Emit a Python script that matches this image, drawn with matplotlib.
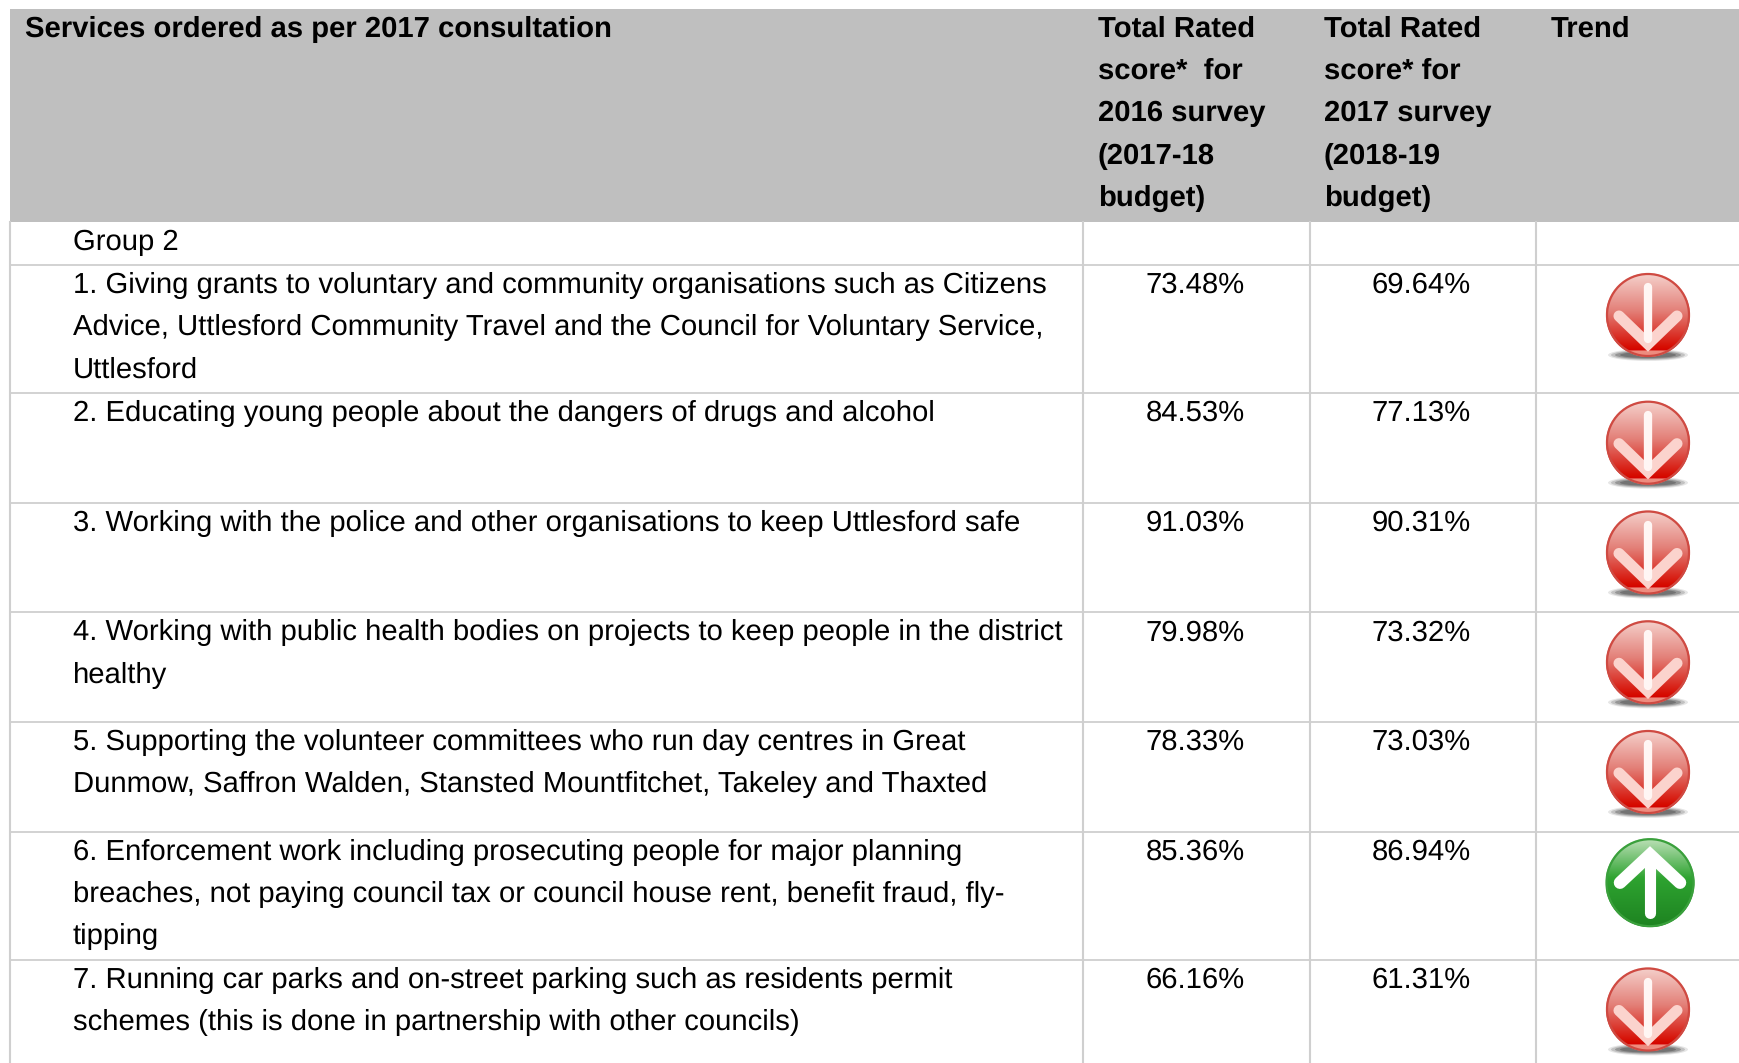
import numpy as np
import matplotlib
matplotlib.use('Agg')
import matplotlib.pyplot as plt
from matplotlib.patches import Circle, Ellipse, Rectangle

plt.rcParams['font.family'] = ['Liberation Sans', 'DejaVu Sans']
plt.rcParams['text.hinting'] = 'no_hinting'

header_main = ["Services ordered as per 2017 consultation"]
header_2016 = ["Total Rated", "score*  for", "2016 survey", "(2017-18", "budget)"]
header_2017 = ["Total Rated", "score* for", "2017 survey", "(2018-19", "budget)"]
header_trend = ["Trend"]
group_label = "Group 2"

services = [
    ["1. Giving grants to voluntary and community organisations such as Citizens",
     "Advice, Uttlesford Community Travel and the Council for Voluntary Service,",
     "Uttlesford"],
    ["2. Educating young people about the dangers of drugs and alcohol"],
    ["3. Working with the police and other organisations to keep Uttlesford safe"],
    ["4. Working with public health bodies on projects to keep people in the district",
     "healthy"],
    ["5. Supporting the volunteer committees who run day centres in Great",
     "Dunmow, Saffron Walden, Stansted Mountfitchet, Takeley and Thaxted"],
    ["6. Enforcement work including prosecuting people for major planning",
     "breaches, not paying council tax or council house rent, benefit fraud, fly-",
     "tipping"],
    ["7. Running car parks and on-street parking such as residents permit",
     "schemes (this is done in partnership with other councils)"],
]
score_2016 = [73.48, 84.53, 91.03, 79.98, 78.33, 85.36, 66.16]
score_2017 = [69.64, 77.13, 90.31, 73.32, 73.03, 86.94, 61.31]
trend_up = [False, False, False, False, False, True, False]

W, H = 1739, 1063
col_x = [10, 1083, 1310, 1536]
row_y = [222, 265, 392.7, 502.5, 612.3, 722, 831.7, 959.5]
line_h = 42.2
fs = 21.1
grid = '#cfcfcf'

fig = plt.figure(figsize=(W / 100, H / 100), dpi=100)
ax = fig.add_axes([0, 0, 1, 1])
ax.set_xlim(0, W)
ax.set_ylim(H, 0)
ax.axis('off')


def lines(x, y, rows, **kw):
    for i, s in enumerate(rows):
        ax.text(x, y + i * line_h, s, fontsize=fs, va='baseline', color='black', **kw)


def icon(cx, cy, up):
    r = 44.5 if up else 42
    if up:
        top, mid, bottom = np.array([0.74, 0.88, 0.72]), np.array([0.18, 0.64, 0.19]), np.array([0.14, 0.56, 0.15])
        edge = '#3aa03c'
    else:
        # soft shadow under the ball
        for w, h, a in [(80, 12, 0.12), (74, 10, 0.2), (66, 8, 0.3), (56, 6, 0.35)]:
            ax.add_patch(Ellipse((cx, cy + 40), w, h, color='#333333', alpha=a, lw=0, zorder=2))
        top, mid, bottom = np.array([0.96, 0.82, 0.80]), np.array([0.89, 0.50, 0.47]), np.array([0.85, 0.14, 0.10])
        edge = '#cf4a42'
    t = np.linspace(0, 1, 64)[:, None, None]
    grad = np.where(t < 0.45, top + (mid - top) * t / 0.45, mid + (bottom - mid) * (t - 0.45) / 0.35)
    grad = np.clip(grad, 0, 1)
    if not up:
        # light rim at the very bottom of the red ball
        grad = np.where(t > 0.93, np.array([0.93, 0.55, 0.50]), grad)
    im = ax.imshow(grad, extent=[cx - r, cx + r, cy + r, cy - r], aspect='auto', zorder=3,
                   interpolation='bilinear')
    im.set_clip_path(Circle((cx, cy), r, transform=ax.transData))
    ax.add_patch(Circle((cx, cy), r - 1, fill=False, ec=edge, lw=1.6, zorder=4))
    if up:
        xs, ys = [cx - 30, cx, cx + 30], [cy + 0, cy - 28, cy + 0]
        ax.plot([cx, cx], [cy - 26, cy + 30], color='white', lw=8, solid_capstyle='round', zorder=5)
        ax.plot(xs, ys, color='white', lw=9, solid_capstyle='round', solid_joinstyle='miter', zorder=5)
    else:
        xs, ys = [cx - 29, cx, cx + 29], [cy + 1, cy + 29, cy + 1]
        ax.plot(xs, ys, color='#fbd3cd', lw=8, solid_capstyle='round', solid_joinstyle='miter', zorder=5)
        ax.plot([cx, cx], [cy - 28, cy + 24], color='#fff6f4', lw=6, solid_capstyle='round', zorder=5)


ax.add_patch(Rectangle((10, 9), W - 10, 213, color='#bfbfbf', lw=0, zorder=1))
for y in row_y[1:]:
    ax.plot([10, W], [y, y], color=grid, lw=1.3, zorder=1)
for x in col_x:
    ax.plot([x, x], [222, H], color=grid, lw=1.5, zorder=1)

lines(25, 37, header_main, fontweight='bold')
lines(1098, 37, header_2016, fontweight='bold')
lines(1324, 37, header_2017, fontweight='bold')
lines(1551, 37, header_trend, fontweight='bold')
lines(73, 250, [group_label])

for i, rows in enumerate(services):
    top = row_y[i + 1]
    lines(73, top + 28, rows)
    lines(1195, top + 28, [f"{score_2016[i]:.2f}%"], ha='center')
    lines(1421, top + 28, [f"{score_2017[i]:.2f}%"], ha='center')
    icon(1650 if trend_up[i] else 1648, top + (51 if trend_up[i] else 50), trend_up[i])

ax.set_xlim(0, W)
ax.set_ylim(H, 0)
fig.savefig('out.png', dpi=100, facecolor='white')
